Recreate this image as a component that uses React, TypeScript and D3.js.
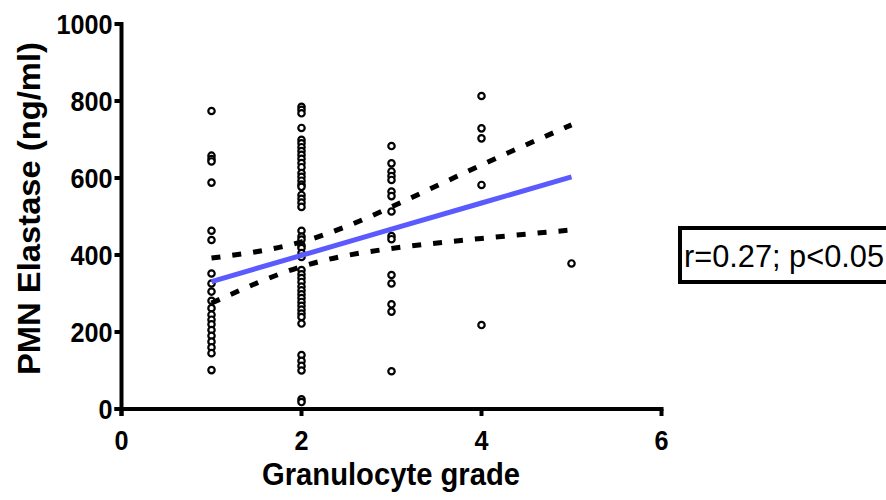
import React from "react";
import * as d3 from "d3";

const grade1 = [774, 658, 649, 643, 588, 463, 439, 352, 326, 305, 281, 262, 245, 232, 220, 205, 190, 175, 160, 145, 101];
const grade2 = [785, 777, 768, 730, 699, 690, 680, 670, 660, 650, 639, 628, 613, 603, 593, 583, 577, 556, 546, 536, 525, 463, 448, 440, 425, 418, 405, 395, 361, 350, 340, 330, 318, 308, 298, 288, 278, 268, 258, 248, 239, 222, 140, 125, 112, 100, 25, 18];
const grade3 = [683, 638, 617, 605, 595, 565, 553, 513, 449, 441, 348, 326, 272, 253, 98];
const grade4 = [813, 729, 703, 582, 218];
const grade5 = [378];

const fitX = [1, 2, 3, 4, 5];
const fitY = [331, 399, 467, 535, 603];
const upperY = [392, 434, 525, 634, 738];
const lowerY = [275, 370, 417, 443, 465];

const xTicks = [0, 2, 4, 6];
const yTicks = [0, 200, 400, 600, 800, 1000];
const xTitle = "Granulocyte grade";
const yTitle = "PMN Elastase (ng/ml)";
const legendText = "r=0.27; p<0.05";

export default function App() {
  const W = 886, H = 500;
  const x = d3.scaleLinear().domain([0, 6]).range([121.5, 661.5]);
  const y = d3.scaleLinear().domain([0, 1000]).range([409, 24]);
  const groups = [grade1, grade2, grade3, grade4, grade5];
  const pts: { g: number; v: number }[] = [];
  groups.forEach((arr, i) => arr.forEach((v) => pts.push({ g: i + 1, v })));

  const line = d3.line<number>().x((_, i) => x(fitX[i])).y((d) => y(d));
  const curve = d3
    .line<number>()
    .x((_, i) => x(fitX[i]))
    .y((d) => y(d))
    .curve(d3.curveNatural);

  const font = "'Liberation Sans', Arial, sans-serif";
  return (
    <svg width={W} height={H} style={{ position: "absolute", left: 0, top: 0 }} fontFamily={font}>
      <rect width={W} height={H} fill="#fff" />
      {/* axes */}
      <line x1={x(0)} x2={x(0)} y1={y(1000) - 2} y2={y(0) + 7} stroke="#000" strokeWidth={4} />
      <line x1={x(0) - 7} x2={x(6) + 2} y1={y(0)} y2={y(0)} stroke="#000" strokeWidth={4} />
      {yTicks.map((t) => (
        <g key={"y" + t}>
          <line x1={x(0) - 7} x2={x(0)} y1={y(t)} y2={y(t)} stroke="#000" strokeWidth={4} />
          <text
            x={x(0) - 9}
            y={y(t)}
            dy="0.36em"
            textAnchor="end"
            fontWeight="bold"
            fontSize={28}
            transform={`translate(${x(0) - 9},0) scale(0.9,1) translate(${-(x(0) - 9)},0)`}
          >
            {t}
          </text>
        </g>
      ))}
      {xTicks.map((t) => (
        <g key={"x" + t}>
          <line x1={x(t)} x2={x(t)} y1={y(0)} y2={y(0) + 7} stroke="#000" strokeWidth={4} />
          <text
            x={x(t)}
            y={y(0) + 41}
            textAnchor="middle"
            fontWeight="bold"
            fontSize={28}
            transform={`translate(${x(t)},0) scale(0.9,1) translate(${-x(t)},0)`}
          >
            {t}
          </text>
        </g>
      ))}
      <text
        x={262}
        y={485}
        fontWeight="bold"
        fontSize={31}
        textLength={258}
        lengthAdjust="spacingAndGlyphs"
      >
        {xTitle}
      </text>
      <text
        transform={`translate(40,375) rotate(-90)`}
        fontWeight="bold"
        fontSize={31}
        textLength={333}
        lengthAdjust="spacingAndGlyphs"
      >
        {yTitle}
      </text>
      {/* points */}
      {pts.map((p, i) => (
        <circle key={i} cx={x(p.g)} cy={y(p.v)} r={3.2} fill="#fff" stroke="#000" strokeWidth={2.2} />
      ))}
      {/* CI */}
      <path d={curve(upperY) || ""} fill="none" stroke="#000" strokeWidth={5} strokeDasharray="9,12" />
      <path d={curve(lowerY) || ""} fill="none" stroke="#000" strokeWidth={5} strokeDasharray="9,12" />
      {/* fit */}
      <path d={line(fitY) || ""} fill="none" stroke="#5a5aff" strokeWidth={5} />
      {/* legend */}
      <rect x={680} y={228} width={230} height={54} fill="#fff" stroke="#000" strokeWidth={4} />
      <text x={684} y={267} fontSize={31} textLength={200} lengthAdjust="spacingAndGlyphs">
        {legendText}
      </text>
    </svg>
  );
}
